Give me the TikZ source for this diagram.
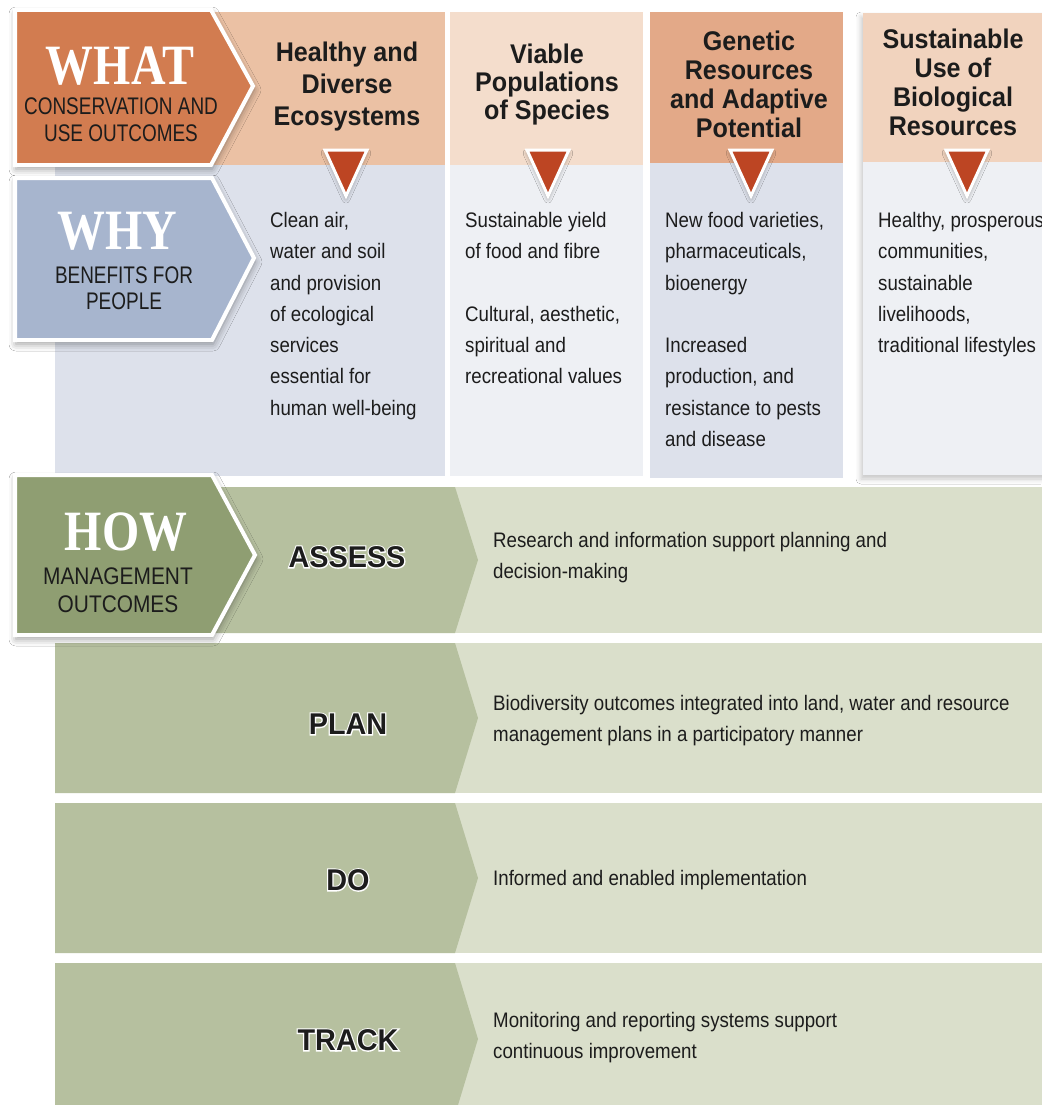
\documentclass[tikz,border=0pt]{standalone}
\usepackage{fontspec}
\setmainfont{Liberation Sans}
\newfontfamily\narrowfont{Liberation Sans}[FakeStretch=0.89]
\newfontfamily\headfont{Liberation Sans}[FakeStretch=0.93]
\newfontfamily\subfont{Liberation Sans}[FakeStretch=0.79]
\newfontfamily\subfontb{Liberation Sans}[FakeStretch=0.87]
\newfontfamily\labelfont{Liberation Sans}[FakeStretch=0.96]
\newfontfamily\halofont{Liberation Sans}[FakeStretch=0.96, FakeBold=8]
\newfontfamily\bigfont{Liberation Serif}[FakeStretch=0.84]
\usetikzlibrary{shadows.blur}

\definecolor{txt}{RGB}{28,28,28}
\definecolor{whatc}{RGB}{210,124,80}
\definecolor{hA}{RGB}{235,193,164}
\definecolor{hB}{RGB}{244,221,204}
\definecolor{hC}{RGB}{227,169,136}
\definecolor{hD}{RGB}{241,211,190}
\definecolor{tric}{RGB}{189,69,35}
\definecolor{whyc}{RGB}{167,181,206}
\definecolor{bA}{RGB}{221,225,235}
\definecolor{bB}{RGB}{238,240,244}
\definecolor{howc}{RGB}{143,158,114}
\definecolor{gdark}{RGB}{182,192,159}
\definecolor{glight}{RGB}{218,223,203}

\newcommand{\halotext}[1]{\rlap{\halofont\bfseries\color{white}#1}#1}

\begin{document}
\begin{tikzpicture}[x=1pt,y=-1pt,
  badge/.style={draw=white, line width=4pt, line join=miter,
    blur shadow={shadow xshift=1pt, shadow yshift=-4pt, shadow blur radius=7pt, shadow opacity=40}},
  tri/.style={fill=tric, draw=white, line width=3pt, line join=miter,
    blur shadow={shadow xshift=0pt, shadow yshift=-3pt, shadow blur radius=4pt, shadow opacity=35}},
  card/.style={blur shadow={shadow xshift=-2pt, shadow yshift=-4pt, shadow blur radius=5pt, shadow opacity=22}},
  body/.style={font=\narrowfont\fontsize{21}{31.3}\selectfont, align=left, anchor=north west, inner sep=0pt, text=txt},
  head/.style={font=\headfont\bfseries\fontsize{27}{#1}\selectfont, align=center, anchor=north, inner sep=0pt, text=txt},
  big/.style={font=\bigfont\bfseries\fontsize{57}{57}\selectfont, text=white, inner sep=0pt},
  sub/.style={font=\subfont\fontsize{24}{#1}\selectfont, align=center, inner sep=0pt, text=txt},
  subb/.style={font=\subfontb\fontsize{24}{#1}\selectfont, align=center, inner sep=0pt, text=txt},
  stage/.style={font=\labelfont\bfseries\fontsize{30}{30}\selectfont, inner sep=0pt, text=txt}
]
\useasboundingbox (0,0) rectangle (1041,1105);
\fill[white] (0,0) rectangle (1041,1105);

% ---------- fourth column card (shadowed) ----------
\fill[bB, card] (863,13) rectangle (1060,475);
\fill[hD] (863,13) rectangle (1060,162);

% ---------- header cells ----------
\fill[hA] (200,12) rectangle (445,165);
\fill[hB] (450,12) rectangle (643,165);
\fill[hC] (650,12) rectangle (843,163);

% ---------- body cells ----------
\fill[bA] (55,165) rectangle (445,476);
\fill[bB] (450,165) rectangle (643,476);
\fill[bA] (650,163) rectangle (843,478);

% ---------- management rows ----------
\foreach \t/\b in {487/633, 643/793, 803/953, 963/1115}{
  \fill[glight] (55,\t) rectangle (1060,\b);
  \fill[gdark] (55,\t) -- (455,\t) -- (478,{(\t+\b)/2}) -- (455,\b) -- (55,\b) -- cycle;
}

% ---------- badges ----------
\path[badge, fill=whatc] (15,10) -- (211,10) -- (253,86) -- (211,165) -- (15,165) -- cycle;
\path[badge, fill=whyc] (15,178) -- (212,178) -- (254,258) -- (212,340) -- (15,340) -- cycle;
\path[badge, fill=howc] (15,475) -- (212,475) -- (255,555) -- (212,635) -- (15,635) -- cycle;

% ---------- triangles ----------
\foreach \cx in {346,548,751,967}{
  \path[tri] (\cx-21,150) -- (\cx+21,150) -- (\cx,196) -- cycle;
}

% ---------- badge texts ----------
\node[big] (what) at (120,66) {WHAT};
\node[sub=27] (whatsub) at (121,120) {CONSERVATION AND\\USE OUTCOMES};
\node[big] (why) at (117,231) {WHY};
\node[sub=26] (whysub) at (124,288) {BENEFITS FOR\\PEOPLE};
\node[big] (how) at (126,532) {HOW};
\node[subb=28] (howsub) at (118,590) {MANAGEMENT\\OUTCOMES};

% ---------- column headers ----------
\node[head=32] (h1) at (347,42) {Healthy and\\Diverse\\Ecosystems};
\node[head=28] (h2) at (547,44) {Viable\\Populations\\of Species};
\node[head=29] (h3) at (749,31) {Genetic\\Resources\\and Adaptive\\Potential};
\node[head=29] (h4) at (953,29) {Sustainable\\Use of\\Biological\\Resources};

% ---------- benefits ----------
\node[body] (b1) at (270,212) {Clean air,\\water and soil\\and provision\\of ecological\\services\\essential for\\human well-being};
\node[body] (b2) at (465,212) {Sustainable yield\\of food and fibre\\[31.3pt]Cultural, aesthetic,\\spiritual and\\recreational values};
\node[body] (b3) at (665,212) {New food varieties,\\pharmaceuticals,\\bioenergy\\[31.3pt]Increased\\production, and\\resistance to pests\\and disease};
\node[body] (b4) at (878,212) {Healthy, prosperous\\communities,\\sustainable\\livelihoods,\\traditional lifestyles};

% ---------- stages ----------
\node[stage] (assess) at (347,557) {\halotext{ASSESS}};
\node[stage] (plan) at (348,724) {\halotext{PLAN}};
\node[stage] (do) at (348,880) {\halotext{DO}};
\node[stage] (track) at (348,1040) {\halotext{TRACK}};

\node[body] (d1) at (493,532) {Research and information support planning and\\decision-making};
\node[body] (d2) at (493,695) {Biodiversity outcomes integrated into land, water and resource\\management plans in a participatory manner};
\node[body] (d3) at (493,870) {Informed and enabled implementation};
\node[body] (d4) at (493,1012) {Monitoring and reporting systems support\\continuous improvement};
\end{tikzpicture}
\end{document}
